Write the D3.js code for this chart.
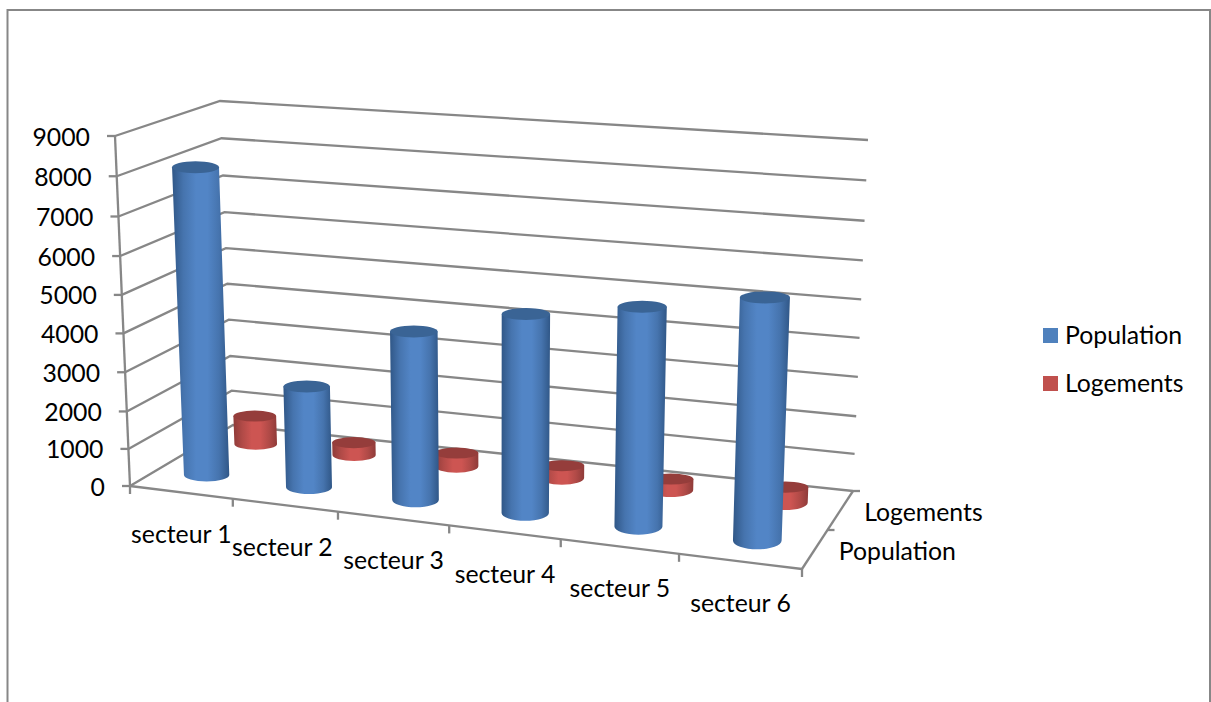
<!DOCTYPE html>
<html lang="fr">
<head>
<meta charset="utf-8">
<style>
html,body{margin:0;padding:0;background:#fff;overflow:hidden}
svg{display:block}
text{font-family:Lato,"Open Sans",sans-serif;fill:#000}
</style>
<script src="https://cdn.jsdelivr.net/npm/d3@7/dist/d3.min.js"></script>
</head>
<body>
<svg id="chart" width="1211" height="702"></svg>
<script>
// Chart data
const categories = ["secteur 1","secteur 2","secteur 3","secteur 4","secteur 5","secteur 6"];
const seriesNames = ["Population","Logements"];
const population = [8090,2700,4450,5220,5730,6295];
const logements = [800,350,370,340,300,420];
const valueTicks = [0,1000,2000,3000,4000,5000,6000,7000,8000,9000];
const blue = {mid:"#5285c6",soft:"#4674ae",edge:"#305787",top:"#3a6495",swatch:"#4f81bd"};
const red = {mid:"#cd5552",soft:"#b04a47",edge:"#8f3b39",top:"#953d3b",swatch:"#c0504d"};
const axisColor = "#878787";

// Box corners of the 3D plot: [front/back][left/right] at floor and ceiling
const box = {
  fl0:[130,486], fr0:[802,569], bl0:[233,425], br0:[853,491],
  fl1:[115,136], fr1:[815,215], bl1:[220,101], br1:[868,140]
};

// Category position along the floor, widening slightly with perspective
const along = d3.scaleLinear().domain([0,1,2,3,4,5,6]).range([0,.153,.3095,.475,.641,.817,1]);
// Depth fraction of each series row on the floor
const depth = d3.scaleOrdinal().domain(seriesNames).range([.275,.77]);
// Wall height fraction per value, spread a little wider toward the top
const height = d3.scaleLinear().domain(valueTicks).range([0,.106,.213,.325,.436,.546,.657,.770,.885,1]);
// Offset of the bar centre inside its category slot
const slotCentre = d3.scaleLinear().domain([0,5]).range([.48,.512]);
const lerp = (a,b,t)=>[a[0]+(b[0]-a[0])*t, a[1]+(b[1]-a[1])*t];

// Trilinear projection from (category position, depth fraction, value) to the page
function project(c,d,v){
  const t = along(c), h = height(v);
  const front = lerp(lerp(box.fl0,box.fr0,t), lerp(box.fl1,box.fr1,t), h);
  const back = lerp(lerp(box.bl0,box.br0,t), lerp(box.bl1,box.br1,t), h);
  return lerp(front,back,d);
}

const svg = d3.select("#chart");
const defs = svg.append("defs");
function bodyGradient(id,col){
  const g = defs.append("linearGradient").attr("id",id).attr("x1",0).attr("x2",1).attr("y1",0).attr("y2",0);
  [[0,col.edge],[.2,col.soft],[.42,col.mid],[.62,col.mid],[.82,col.soft],[1,col.edge]].forEach(([o,c])=>
    g.append("stop").attr("offset",o).attr("stop-color",c));
}
bodyGradient("gradBlue",blue);
bodyGradient("gradRed",red);

// Chart area border, open at the bottom edge of the page
svg.append("path").attr("d","M7.5 702V10H1210V702").attr("fill","none")
  .attr("stroke",axisColor).attr("stroke-width",2);

const grid = svg.append("g").attr("fill","none").attr("stroke",axisColor).attr("stroke-width",2.3);
const line = d3.line();
function seg(points){ grid.append("path").attr("d",line(points)); }

// Gridlines on the left and back walls
valueTicks.forEach(v=>{
  seg([project(0,0,v),project(0,1,v),project(6,1,v)]);
});
// Value axis with ticks
seg([project(0,0,0),project(0,0,9000)]);
valueTicks.forEach(v=>{
  const p = project(0,0,v);
  seg([[p[0]-8,p[1]],p]);
});
// Front and right floor edges with ticks
seg([project(0,0,0),project(6,0,0)]);
d3.range(0,7).forEach(i=>{
  const p = project(i,0,0);
  seg([p,[p[0],p[1]+8]]);
});
seg([project(6,0,0),project(6,1,0)]);
[.5,1].forEach(d=>{
  const p = project(6,d,0);
  seg([p,[p[0]+7,p[1]]]);
});

// Cylinders: the rear series first, then the front one
const radius = d3.scaleLinear().domain([0,6]).range([22.5,24.5]);
function cylinder(parent,i,name,value,col,grad,scale){
  const d = depth(name), c = i+slotCentre(i);
  const b = project(c,d,0), t = project(c,d,value);
  const rb = radius(c)*scale, rt = rb*(1+.04*height(value));
  const ryb = (6.5+i*.45)*(scale<1?.85:1), ryt = 6*(scale<1?.92:1);
  const g = parent.append("g");
  g.append("path").attr("fill",`url(#${grad})`)
    .attr("d",`M${t[0]-rt} ${t[1]}L${b[0]-rb} ${b[1]}A${rb} ${ryb} 0 0 0 ${b[0]+rb} ${b[1]}L${t[0]+rt} ${t[1]}Z`);
  g.append("ellipse").attr("cx",t[0]).attr("cy",t[1]).attr("rx",rt).attr("ry",ryt).attr("fill",col.top);
}
const bars = svg.append("g");
logements.forEach((v,i)=>cylinder(bars,i,seriesNames[1],v,red,"gradRed",.94));
population.forEach((v,i)=>cylinder(bars,i,seriesNames[0],v,blue,"gradBlue",1));

// Axis labels
const fontSize = 24.8;
const labels = svg.append("g").attr("font-size",fontSize);
valueTicks.forEach(v=>{
  const p = project(0,0,v);
  labels.append("text").attr("x",p[0]-25).attr("y",p[1]).attr("text-anchor","end")
    .attr("dominant-baseline","central").text(v);
});
categories.forEach((c,i)=>{
  const p = project(i+.5,0,0);
  // The second label sits a little closer to the first
  labels.append("text").attr("x",p[0]-(i===1?3:0)).attr("y",p[1]+41).attr("text-anchor","middle")
    .attr("dominant-baseline","central").text(c);
});
[.25,.75].forEach((d,i)=>{
  const p = project(6,d,0);
  labels.append("text").attr("x",p[0]+24).attr("y",p[1]+1)
    .attr("dominant-baseline","central").text(seriesNames[i]);
});

// Legend
const legendY = d3.scalePoint().domain(seriesNames).range([335.5,383.5]);
const swatches = {[seriesNames[0]]:blue.swatch,[seriesNames[1]]:red.swatch};
seriesNames.forEach(n=>{
  svg.append("rect").attr("x",1043).attr("y",legendY(n)-7.5).attr("width",15).attr("height",15).attr("fill",swatches[n]);
  svg.append("text").attr("x",1065).attr("y",legendY(n)-1).attr("font-size",fontSize)
    .attr("dominant-baseline","central").text(n);
});
</script>
</body>
</html>
